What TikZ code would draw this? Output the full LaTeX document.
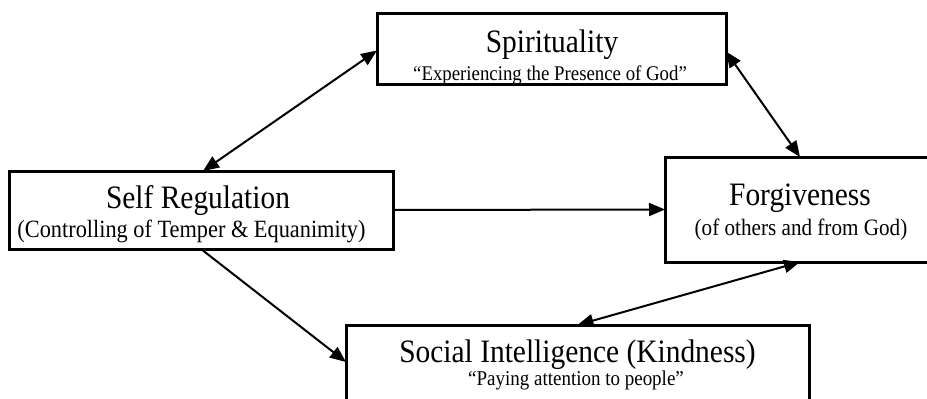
\documentclass[tikz,border=0pt]{standalone}
\usepackage{fontspec}
\setmainfont[FakeStretch=0.9]{Liberation Serif}
\usetikzlibrary{arrows.meta}

\tikzset{
  box/.style={draw, line width=3pt, rectangle, outer sep=0pt, inner sep=0pt},
  ttl/.style={anchor=base, inner sep=0pt, font=\fontsize{32.7}{33}\selectfont},
  sub/.style={anchor=base, inner sep=0pt},
  tip/.style={Triangle[length=16pt,width=13pt]},
  link/.style={line width=2pt, {Triangle[length=16pt,width=13pt]}-{Triangle[length=16pt,width=13pt]}},
  onelink/.style={line width=2pt, -{Triangle[length=16pt,width=13pt]}}
}

\begin{document}
\begin{tikzpicture}[x=1pt, y=-1pt]
  \useasboundingbox (0,0) rectangle (927,399);
  \clip (0,0) rectangle (927,399);

  % boxes
  \node[box, minimum width=349pt, minimum height=71pt]  (sp) at (551.5,48.5) {};
  \node[box, minimum width=384pt, minimum height=78pt]  (sr) at (201,210) {};
  \node[box, minimum width=270pt, minimum height=105pt] (fg) at (800,209.5) {};
  \node[box, minimum width=463pt, minimum height=100pt] (si) at (577.5,375) {};

  % labels
  \node[ttl] (spT) at (552,52) {Spirituality};
  \begin{scope}
    \clip (378,14) rectangle (725,83);
    \node[sub, font=\fontsize{20.9}{21}\selectfont] (spS) at (550,80) {“Experiencing the Presence of God”};
  \end{scope}

  \node[ttl] (srT) at (198,208) {Self Regulation};
  \node[sub, font=\fontsize{24.8}{25}\selectfont] (srS) at (191.5,237) {(Controlling of Temper \& Equanimity)};

  \node[ttl] (fgT) at (800,205) {Forgiveness};
  \node[sub, font=\fontsize{23.5}{24}\selectfont] (fgS) at (801,235) {(of others and from God)};

  \node[ttl] (siT) at (577.5,362) {Social Intelligence (Kindness)};
  \node[sub, font=\fontsize{21.1}{22}\selectfont] (siS) at (576,385) {“Paying attention to people”};

  % connectors
  \draw[link] ([xshift=2pt]sr.north) -- ([yshift=-2pt]sp.west);
  \draw[link] ([yshift=-3pt]sp.east) -- (fg.north);
  \draw[onelink] (sr.east) -- (fg.west);
  \draw[onelink] (sr.south) -- ([yshift=13pt]si.west);
  \draw[link] (fg.south) -- (si.north);
\end{tikzpicture}
\end{document}
